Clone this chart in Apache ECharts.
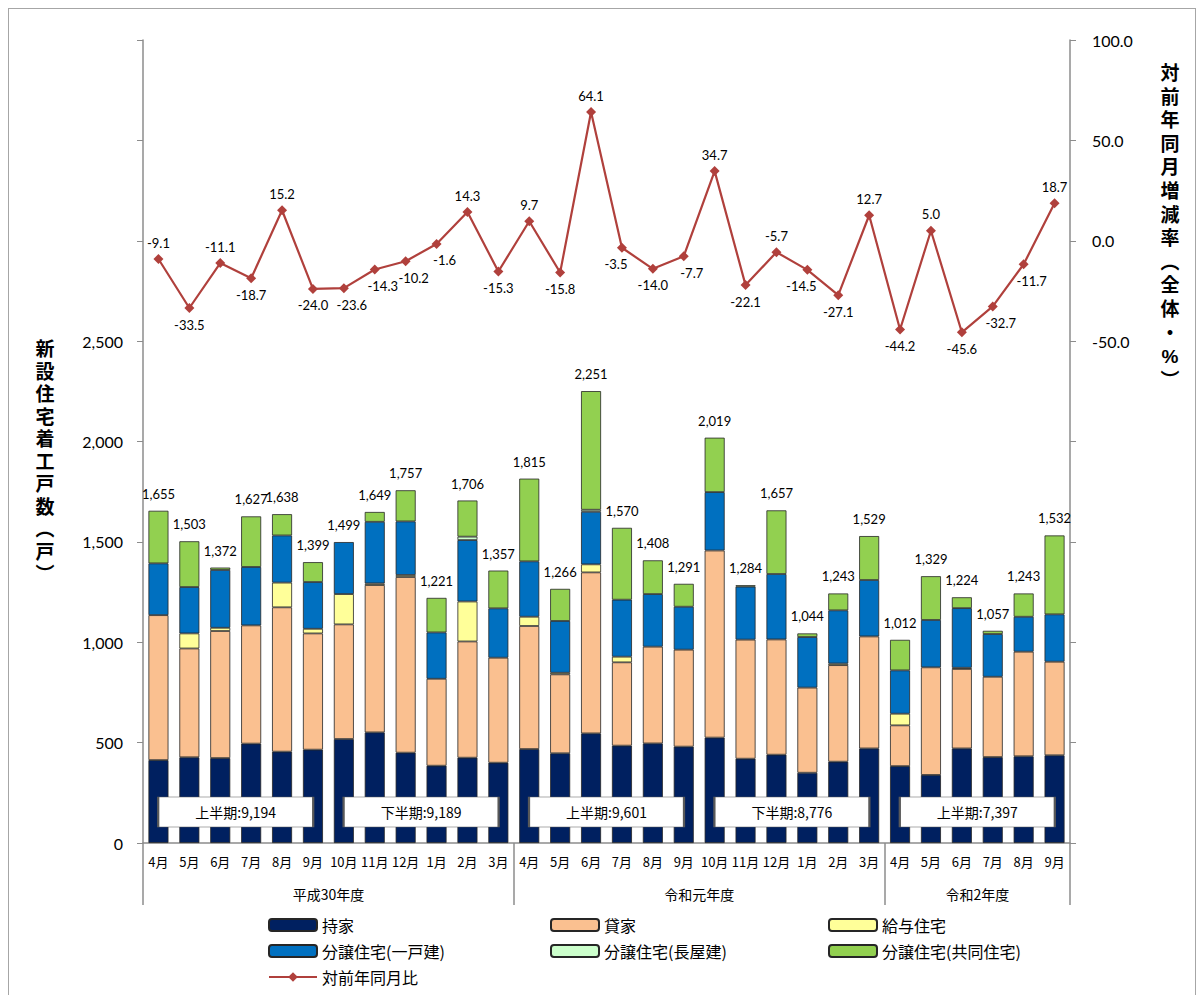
<!DOCTYPE html>
<html><head><meta charset="utf-8">
<script src="https://cdn.jsdelivr.net/npm/echarts@6/dist/echarts.min.js"></script>
<style>
html,body{margin:0;padding:0;background:#fff}
#c{width:1203px;height:995px}
#frame{position:absolute;left:8px;top:8px;width:1186px;height:1000px;border:1px solid #a6a6a6;pointer-events:none}
</style>
</head><body><div id="c"></div><div id="frame"></div>
<script>
// ---- data ----
const months = ['4月','5月','6月','7月','8月','9月','10月','11月','12月','1月','2月','3月',
                '4月','5月','6月','7月','8月','9月','10月','11月','12月','1月','2月','3月',
                '4月','5月','6月','7月','8月','9月'];
const fiscalYears = ['平成30年度','令和元年度','令和2年度'];
const fiscalYearLengths = [12, 12, 6];
const halfNames = ['上半期','下半期','上半期','下半期','上半期'];

const mochiie  = [413,427,423,495,455,465,518,551,450,385,425,400, 468,447,546,485,496,480,525,420,440,350,405,471, 383,339,471,428,432,437];
const kashiya  = [722,542,633,589,719,579,571,734,875,433,579,523, 613,393,802,415,482,483,932,593,574,424,481,558, 203,536,396,400,521,466];
const kyuyo    = [0,75,16,0,123,23,151,8,10,0,199,0, 46,8,40,28,0,0,0,0,0,0,8,0, 58,0,6,0,0,0];
const ikkodate = [258,231,288,291,235,233,259,307,267,231,306,246, 276,258,262,284,262,214,291,264,326,252,265,281, 216,236,297,213,174,236];
const nagaya   = [0,0,0,0,0,0,0,0,0,0,17,0, 0,0,10,0,0,0,0,0,0,0,0,0, 0,0,0,0,0,0];
const kyodo    = [262,228,12,252,106,99,0,49,155,172,180,188, 412,160,591,358,168,114,271,7,317,18,84,219, 152,218,54,16,116,393];
const yoyRate  = [-9.1,-33.5,-11.1,-18.7,15.2,-24.0,-23.6,-14.3,-10.2,-1.6,14.3,-15.3,
                  9.7,-15.8,64.1,-3.5,-14.0,-7.7,34.7,-22.1,-5.7,-14.5,-27.1,12.7,
                  -44.2,5.0,-45.6,-32.7,-11.7,18.7];
const leftTicksMax = 2500;
const rightTicksMin = -50;
const leftTitle = '新設住宅着工戸数︵戸︶';
const rightTitle = '対前年同月増減率︵全体・%︶';

// ---- derived ----
const segs = [mochiie, kashiya, kyuyo, ikkodate, nagaya, kyodo];
const totals = months.map((_, i) => segs.reduce((s, a) => s + a[i], 0));
const halfSums = halfNames.map((_, h) => totals.slice(h*6, h*6+6).reduce((s, v) => s + v, 0));
const fmt = v => v.toLocaleString('en-US');
const bounds = [0]; fiscalYearLengths.forEach(l => bounds.push(bounds[bounds.length-1] + l));
const yearCenters = fiscalYearLengths.map((l, i) => bounds[i] + l/2);

const NUM = "Lato, 'Noto Sans CJK JP', sans-serif";
const JP = "'Noto Sans CJK JP', sans-serif";
const axisGray = '#8c8c8c';

const barDefs = [
  ['持家', mochiie, '#002060'],
  ['貸家', kashiya, '#FAC090'],
  ['給与住宅', kyuyo, '#FFFF99'],
  ['分譲住宅(一戸建)', ikkodate, '#0070C0'],
  ['分譲住宅(長屋建)', nagaya, '#CCFFCC'],
  ['分譲住宅(共同住宅)', kyodo, '#92D050']
];

const barSeries = barDefs.map(([name, arr, color]) => ({
  name, type: 'bar', stack: 'total', barWidth: 20,
  xAxisIndex: 0, yAxisIndex: 0,
  itemStyle: { color, borderColor: '#262626', borderWidth: 0.8 },
  data: arr.map(v => v === 0 ? '-' : v)
}));

// label side: above for local peaks, below otherwise; below-labels lean along the slope
const lineData = yoyRate.map((v, i) => {
  const prev = i > 0 ? yoyRate[i-1] : -Infinity;
  const next = i < yoyRate.length-1 ? yoyRate[i+1] : -Infinity;
  const peak = v >= prev && v >= next;
  let dx = 0;
  if (!peak) {
    const rising = i > 0 && prev < v && next > v;
    const falling = i > 0 && prev > v && next < v;
    dx = rising ? 8 : (falling ? -6 : 0);
  }
  return { value: v, label: { position: peak ? 'top' : 'bottom', offset: [dx, 0] } };
});

const legendCommon = { orient: 'vertical', itemWidth: 48, itemHeight: 12, itemGap: 6, padding: 0,
  textStyle: { fontSize: 16, color: '#000', fontFamily: JP, lineHeight: 20 } };

// vertical axis titles: one text element per character
const TITLE_FONT = "bold 19px 'Liberation Sans', 'Noto Sans CJK JP'";
function verticalTitle(str, cx, top, pitch) {
  return Array.from(str).map((ch, k) => ({
    type: 'text', x: cx, y: top + k * pitch,
    style: { text: ch, font: TITLE_FONT, fill: '#000', textAlign: 'center', textVerticalAlign: 'top' }
  }));
}

const option = {
  animation: false,
  backgroundColor: '#fff',
  grid: { left: 143, right: 133, top: 40, bottom: 152, containLabel: false },
  xAxis: [
    { type: 'category', data: months, position: 'bottom',
      axisLine: { show: true, onZero: false, lineStyle: { color: axisGray, width: 1.5 } },
      axisTick: { show: false },
      axisLabel: { interval: 0, fontSize: 13, color: '#000', margin: 12, fontFamily: JP, hideOverlap: false }
    },
    { type: 'value', min: 0, max: bounds[bounds.length-1], position: 'bottom',
      axisLine: { show: false, onZero: false },
      splitLine: { show: false },
      axisTick: { show: true, customValues: bounds, length: 62, lineStyle: { color: axisGray, width: 1.5 } },
      axisLabel: { customValues: yearCenters, margin: 44, fontSize: 14, color: '#000', fontFamily: JP,
        formatter: v => { const k = yearCenters.indexOf(v); return k >= 0 ? fiscalYears[k] : ''; } }
    }
  ],
  yAxis: [
    { type: 'value', min: 0, max: 4000, interval: 500, position: 'left',
      axisLine: { show: true, onZero: false, lineStyle: { color: axisGray, width: 1.5 } },
      axisTick: { show: true, inside: false, length: 6, lineStyle: { color: axisGray } },
      splitLine: { show: false },
      axisLabel: { fontSize: 16, color: '#000', margin: 20, fontFamily: NUM,
        formatter: v => v <= leftTicksMax ? fmt(v) : '' }
    },
    { type: 'value', min: -300, max: 100, interval: 50, position: 'right',
      axisLine: { show: true, onZero: false, lineStyle: { color: axisGray, width: 1.5 } },
      axisTick: { show: true, inside: false, length: 6, lineStyle: { color: axisGray } },
      splitLine: { show: false },
      axisLabel: { fontSize: 16, color: '#000', margin: 22, fontFamily: NUM,
        formatter: v => v >= rightTicksMin ? v.toFixed(1) : '' }
    }
  ],
  legend: [
    Object.assign({ left: 268, top: 915, data: ['持家', '分譲住宅(一戸建)', '対前年同月比'] }, legendCommon),
    Object.assign({ left: 550, top: 915, data: ['貸家', '分譲住宅(長屋建)'] }, legendCommon),
    Object.assign({ left: 828, top: 915, data: ['給与住宅', '分譲住宅(共同住宅)'] }, legendCommon)
  ],
  graphic: [
    ...verticalTitle(leftTitle, 45, 340, 22.5),
    ...verticalTitle(rightTitle, 1170, 64, 23.6)
  ],
  series: [
    ...barSeries,
    { name: '合計', type: 'scatter', xAxisIndex: 0, yAxisIndex: 0, z: 4,
      symbolSize: 1, itemStyle: { color: 'rgba(0,0,0,0)', opacity: 1 }, silent: true,
      label: { show: true, position: 'top', distance: 10, fontSize: 13, color: '#000', fontFamily: NUM,
        formatter: p => fmt(p.value) },
      labelLayout: { moveOverlap: 'shiftY' },
      data: totals },
    { name: '半期', type: 'scatter', xAxisIndex: 1, yAxisIndex: 0, z: 6, silent: true,
      symbol: 'rect', symbolSize: [155, 30],
      itemStyle: { color: '#ffffff', borderColor: '#595959', borderWidth: 1, opacity: 1 },
      label: { show: true, position: 'inside', fontSize: 14, color: '#000', fontFamily: JP,
        formatter: p => halfNames[p.dataIndex] + ':' + fmt(halfSums[p.dataIndex]) },
      data: halfNames.map((_, h) => [h*6 + 3, 154]) },
    { name: '対前年同月比', type: 'line', xAxisIndex: 0, yAxisIndex: 1, z: 10,
      symbol: 'diamond', symbolSize: 10,
      lineStyle: { color: '#B0403C', width: 2.2 },
      itemStyle: { color: '#B0403C' },
      label: { show: true, distance: 5, fontSize: 13, color: '#000', fontFamily: NUM,
        formatter: p => p.value.toFixed(1) },
      data: lineData }
  ]
};

const chart = echarts.init(document.getElementById('c'), null, { renderer: 'svg' });
chart.setOption(option);
</script>
</body></html>
